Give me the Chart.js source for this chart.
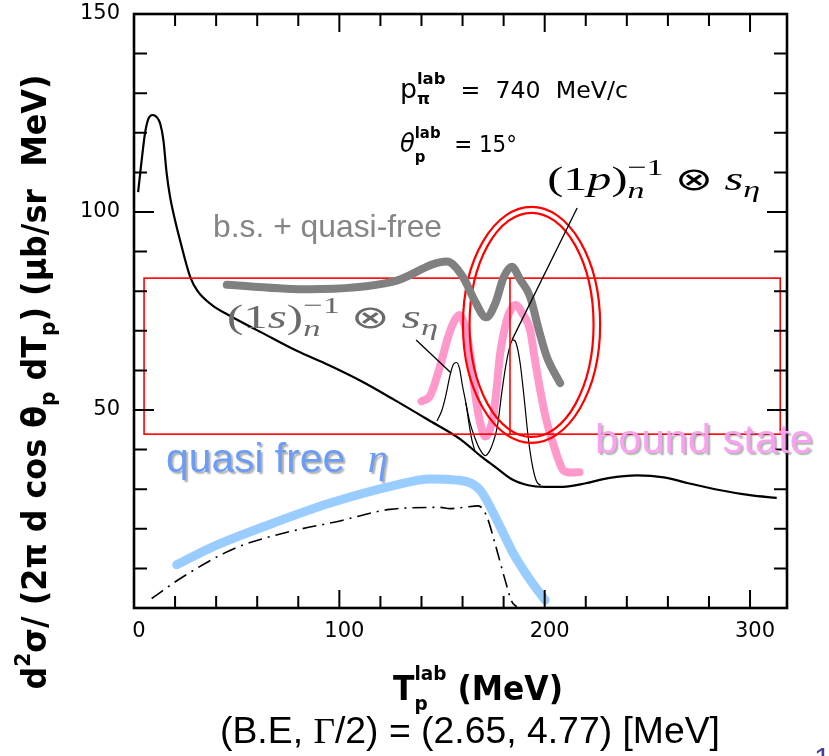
<!DOCTYPE html>
<html><head><meta charset="utf-8">
<script src="https://cdn.jsdelivr.net/npm/chart.js@4.4.1/dist/chart.umd.min.js"></script>
<style>html,body{margin:0;padding:0;background:#fff;}canvas{display:block;}</style>
</head><body>
<canvas id="c" width="829" height="756"></canvas>
<script>
// ---------- data ----------
const xTickLabels = [0, 100, 200, 300];
const yTickLabels = [50, 100, 150];
const xMinorStep = 20, yMinorStep = 10;

// total calculated spectrum (thin black)
const bgX = [2, 3.5, 5.4, 7, 9, 11, 12.7, 14.3, 15.9, 17.5, 19.2, 22.4, 27.3, 31, 38, 46, 62, 79, 95, 111, 127, 143, 159, 169, 176, 184, 192, 200, 209, 220, 231, 245, 258, 270, 285, 300, 313];
const bgY = [105, 112, 120, 123.5, 124.5, 124, 122.4, 118.2, 109.8, 104, 99.7, 92.9, 83.7, 80, 76.5, 74, 69.6, 65, 61.3, 57.2, 52.5, 47.6, 42.6, 38.3, 35.6, 32.5, 31, 30.6, 30.6, 31.5, 32.8, 33.5, 33, 31.5, 29.8, 28.5, 27.8];
// (1s) bound-state peak on background
const s1X = [147.5, 150, 152, 154, 155.5, 157, 158.5, 160, 161.6, 163, 164.5, 166];
const s1Y = [47.2, 50, 54, 59, 61.5, 62, 60.5, 56, 51.8, 47, 42.5, 39.7];
// (1s)+(1p) peaks on background
const s2X = [161.6, 163.5, 166, 168.5, 171, 173, 175, 177, 179, 181, 183, 184.5, 186, 188, 190, 192, 194, 196, 198];
const s2Y = [51.8, 47, 43, 40, 38.5, 39.5, 42, 46, 54, 61, 66, 67.7, 67, 62, 53, 43, 36, 32, 31];
// quasi-free (dash-dot)
const qfX = [8.6, 23.9, 49.2, 76, 98.7, 124.7, 149, 153.9, 160.4, 167.7, 171.8, 175.8, 180.7, 184, 186.4];
const qfY = [2.4, 7.9, 15.1, 19.3, 21.8, 24.9, 25.4, 25.1, 25.4, 25.8, 23.1, 16.3, 7.1, 1.6, 0.3];
// overlays
const blueX = [20.8, 38.6, 63, 95.5, 128, 144.2, 157.2, 168.5, 176.7, 184.6, 192.9, 200.2];
const blueY = [10.9, 15.5, 20.5, 26.5, 31.1, 32.6, 32.3, 29.8, 22.2, 13.9, 7.1, 2];
const pinkX = [140, 144.2, 149, 153, 156, 158.5, 161, 163.7, 165.5, 167.6, 169.5, 171, 173, 174.9, 176.5, 178.3, 181.5, 184, 186, 189, 192.9, 195, 197.8, 201, 204, 207, 209, 213, 217];
const pinkY = [52.2, 53.6, 61, 68.5, 72.5, 74, 71.5, 64.3, 56.5, 49.2, 45, 43.3, 44.5, 48.3, 55, 64.3, 72.7, 75.8, 76.5, 74.5, 70.2, 63.5, 55, 47, 41.7, 37, 34.8, 34.2, 34.3];
const grayX = [45.2, 85.3, 126.2, 152.3, 160.2, 166, 171.5, 176, 180, 184, 188, 192.9, 197, 201, 207.5];
const grayY = [81.6, 80.5, 82.4, 87.5, 83.6, 77.5, 73.4, 77, 83.5, 86.2, 83, 78.6, 70.5, 63.5, 56.8];

// annotation geometry in data units
const boxX = [4.9, 314.7], boxY = [43.9, 83.3], boxSplitX = 183.1;
const ellC = [193.6, 71.5], ellOuter = [33.4, 29.8], ellInner = [30.2, 28.3];
const ptr1s = [[137.4, 67.7], [154.3, 59.4]];
const ptr1p = [[215.8, 101], [184.1, 67.7]];

const pts = (xs, ys) => xs.map((x, i) => ({x, y: ys[i]}));

// ---------- rich text helper ----------
function layoutRich(ctx, parts) {
  let x = 0, items = [], prevStart = 0, prevEnd = 0;
  for (const p of parts) {
    ctx.font = p.f;
    const w = ctx.measureText(p.t).width;
    const sx = p.stack ? prevStart : x;
    items.push({p, x: sx});
    if (p.stack) { x = Math.max(prevEnd, sx + w); prevEnd = x; }
    else { prevStart = sx; prevEnd = sx + w; x = prevEnd; }
  }
  return {items, width: x};
}
function drawRich(ctx, parts, x, y, o) {
  const L = layoutRich(ctx, parts);
  const k = o.width ? o.width / L.width : 1;
  ctx.save();
  ctx.translate(x, y);
  if (o.rot) ctx.rotate(o.rot);
  ctx.scale(k, 1);
  if (o.shadow) { ctx.shadowColor = o.shadow; ctx.shadowOffsetX = 2; ctx.shadowOffsetY = 2; ctx.shadowBlur = 1.5; }
  if (o.blur) { ctx.filter = 'blur(' + o.blur + 'px)'; }
  ctx.textBaseline = 'alphabetic'; ctx.textAlign = 'left';
  const ox = o.center ? -L.width / 2 : 0;
  for (const it of L.items) {
    ctx.font = it.p.f; ctx.fillStyle = it.p.c || o.color;
    ctx.fillText(it.p.t, ox + it.x, it.p.dy || 0);
  }
  ctx.restore();
}

const SANS = "'DejaVu Sans'";
const ARIAL = "'Liberation Sans', Arial";
const SERIF = "'Liberation Serif', 'Times New Roman'";

const annot = {
  id: 'annot',
  beforeDatasetDraw(chart, args) {
    if (args.index !== 0) return;
    const {ctx, chartArea: a, scales: {x, y}} = chart;
    ctx.save();
    ctx.beginPath(); ctx.rect(a.left, a.top, a.right - a.left, a.bottom - a.top); ctx.clip();
    ctx.strokeStyle = '#ff0000';
    ctx.lineWidth = 1.6;
    const x0 = x.getPixelForValue(boxX[0]), x1 = x.getPixelForValue(boxX[1]);
    const y0 = y.getPixelForValue(boxY[1]), y1 = y.getPixelForValue(boxY[0]);
    ctx.strokeRect(x0, y0, x1 - x0, y1 - y0);
    const xs = x.getPixelForValue(boxSplitX);
    ctx.beginPath(); ctx.moveTo(xs, y0); ctx.lineTo(xs, y1); ctx.stroke();
    const cx = x.getPixelForValue(ellC[0]), cy = y.getPixelForValue(ellC[1]);
    ctx.lineWidth = 2.2;
    for (const r of [ellOuter, ellInner]) {
      const rx = x.getPixelForValue(ellC[0] + r[0]) - cx;
      const ry = cy - y.getPixelForValue(ellC[1] + r[1]);
      ctx.beginPath(); ctx.ellipse(cx, cy, rx, ry, 0, 0, Math.PI * 2); ctx.stroke();
    }
    ctx.restore();
  },
  afterDatasetsDraw(chart) {
    const {ctx, chartArea: a, scales: {x, y}} = chart;
    const X = v => x.getPixelForValue(v), Y = v => y.getPixelForValue(v);
    ctx.save();
    // frame
    ctx.strokeStyle = '#000'; ctx.lineWidth = 2.6;
    ctx.strokeRect(a.left, a.top, a.right - a.left, a.bottom - a.top);
    // inward ticks
    ctx.lineWidth = 2;
    for (let v = xMinorStep; v < x.max; v += xMinorStep) {
      const px = X(v), L = v % 100 === 0 ? 18 : 12;
      ctx.beginPath(); ctx.moveTo(px, a.bottom); ctx.lineTo(px, a.bottom - L);
      ctx.moveTo(px, a.top); ctx.lineTo(px, a.top + L); ctx.stroke();
    }
    for (let v = yMinorStep; v < y.max; v += yMinorStep) {
      const py = Y(v), L = v % 50 === 0 ? 20 : 13;
      ctx.beginPath(); ctx.moveTo(a.left, py); ctx.lineTo(a.left + L, py);
      ctx.moveTo(a.right, py); ctx.lineTo(a.right - L, py); ctx.stroke();
    }
    // pointer lines
    ctx.lineWidth = 1.3;
    for (const p of [ptr1s, ptr1p]) {
      ctx.beginPath(); ctx.moveTo(X(p[0][0]), Y(p[0][1])); ctx.lineTo(X(p[1][0]), Y(p[1][1])); ctx.stroke();
    }
    ctx.restore();

    // in-plot texts
    drawRich(ctx, [
      {t: 'p', f: '26px ' + SANS},
      {t: 'lab', f: 'bold 16px ' + SANS, dy: -14},
      {t: 'π', f: 'bold 16px ' + SANS, dy: 6, stack: true},
      {t: '  =  740  MeV/c', f: '23px ' + SANS}
    ], X(129.5), Y(128.8), {color: '#000', width: 228});
    drawRich(ctx, [
      {t: 'θ', f: 'italic 26px ' + SANS},
      {t: 'lab', f: 'bold 16px ' + SANS, dy: -14},
      {t: 'p', f: 'bold 16px ' + SANS, dy: 10, stack: true},
      {t: '  = 15°', f: '23px ' + SANS}
    ], X(129.5), Y(115.2), {color: '#000', width: 117});
    const texParts = (l) => [
      {t: '(1', f: '34px ' + SERIF},
      {t: l, f: 'italic 34px ' + SERIF},
      {t: ')', f: '34px ' + SERIF},
      {t: '−1', f: '24px ' + SERIF, dy: -15},
      {t: 'n', f: 'italic 24px ' + SERIF, dy: 8, stack: true},
      {t: ' ⊗ ', f: '32px ' + SERIF},
      {t: 's', f: 'italic 34px ' + SERIF},
      {t: 'η', f: 'italic 24px ' + SERIF, dy: 7}
    ];
    drawRich(ctx, texParts('p'), X(201.2), Y(105.6), {color: '#000', width: 213});
    drawRich(ctx, texParts('s'), X(45.3), Y(70.7), {color: '#6a6a6a', width: 211, blur: 0.6});
    drawRich(ctx, [{t: 'b.s. + quasi-free', f: '32px ' + ARIAL}], X(38.5), Y(93.7), {color: '#858585', width: 229});
    drawRich(ctx, [
      {t: 'quasi free  ', f: '40px ' + ARIAL},
      {t: 'η', f: 'italic 40px ' + SERIF}
    ], X(15.6), Y(34.3), {color: '#6b9cf6', shadow: 'rgba(80,80,80,0.45)', width: 222});
    drawRich(ctx, [{t: 'bound state', f: '40px ' + ARIAL}], X(224.5), Y(39.1), {color: '#f8a2f0', shadow: 'rgba(80,80,80,0.45)', width: 218});

    // axis titles and caption
    drawRich(ctx, [
      {t: 'T', f: 'bold 34px ' + SANS},
      {t: 'lab', f: 'bold 20px ' + SANS, dy: -20},
      {t: 'p', f: 'bold 20px ' + SANS, dy: 10, stack: true},
      {t: ' (MeV)', f: 'bold 34px ' + SANS}
    ], 393, 700, {color: '#000', width: 170});
    drawRich(ctx, [
      {t: 'd', f: 'bold 33px ' + SANS},
      {t: '2', f: 'bold 21px ' + SANS, dy: -16},
      {t: 'σ/ (2', f: 'bold 33px ' + SANS},
      {t: 'π', f: 'bold 33px ' + SANS},
      {t: ' d cos ', f: 'bold 33px ' + SANS},
      {t: 'θ', f: 'bold 33px ' + SANS},
      {t: 'p', f: 'bold 21px ' + SANS, dy: 9},
      {t: ' dT', f: 'bold 33px ' + SANS},
      {t: 'p', f: 'bold 21px ' + SANS, dy: 9},
      {t: ') (', f: 'bold 33px ' + SANS},
      {t: 'μ', f: 'bold 33px ' + SANS},
      {t: 'b/sr  MeV)', f: 'bold 33px ' + SANS}
    ], 46, 382, {color: '#000', width: 615, rot: -Math.PI / 2, center: true});
    drawRich(ctx, [
      {t: '(B.E, ', f: '36px ' + ARIAL},
      {t: 'Γ', f: '36px ' + SERIF},
      {t: '/2) = (2.65, 4.77) [MeV]', f: '36px ' + ARIAL}
    ], 220, 743, {color: '#000', width: 500});
    drawRich(ctx, [{t: '1', f: '30px ' + ARIAL}], 814, 768, {color: '#4b3d8f'});
  }
};

const chart = new Chart(document.getElementById('c'), {
  type: 'line',
  data: {
    datasets: [
      {data: pts(grayX, grayY), borderColor: '#808080', borderWidth: 8, borderCapStyle: 'round', borderJoinStyle: 'round', cubicInterpolationMode: 'monotone'},
      {data: pts(pinkX, pinkY), borderColor: '#ff99cc', borderWidth: 8, borderCapStyle: 'round', cubicInterpolationMode: 'monotone'},
      {data: pts(blueX, blueY), borderColor: '#99ccff', borderWidth: 9, borderCapStyle: 'round', cubicInterpolationMode: 'monotone'},
      {data: pts(qfX, qfY), borderColor: '#000', borderWidth: 1.6, borderDash: [14, 6, 2, 6], cubicInterpolationMode: 'monotone'},
      {data: pts(s1X, s1Y), borderColor: '#000', borderWidth: 1.2, cubicInterpolationMode: 'monotone'},
      {data: pts(s2X, s2Y), borderColor: '#000', borderWidth: 1.2, cubicInterpolationMode: 'monotone'},
      {data: pts(bgX, bgY), borderColor: '#000', borderWidth: 2.2, cubicInterpolationMode: 'monotone'}
    ]
  },
  options: {
    responsive: false, animation: false, devicePixelRatio: 1,
    layout: {padding: {top: 14, right: 42, left: 0, bottom: 0}},
    elements: {point: {radius: 0}, line: {fill: false}},
    plugins: {legend: {display: false}, tooltip: {enabled: false}},
    scales: {
      x: {
        type: 'linear', min: 0, max: 318,
        grid: {display: false, drawTicks: false}, border: {display: false},
        ticks: {stepSize: 100, includeBounds: false, autoSkip: false, maxRotation: 0, padding: 11, labelOffset: 5,
          color: '#000', font: {family: 'DejaVu Sans', size: 21},
          callback: v => xTickLabels.includes(v) ? String(v) : ''},
        afterFit: s => { s.height = 148; s.paddingLeft = 0; s.paddingRight = 0; }
      },
      y: {
        min: 0, max: 150,
        grid: {display: false, drawTicks: false}, border: {display: false},
        ticks: {stepSize: 50, includeBounds: false, autoSkip: false, padding: 14,
          color: '#000', font: {family: 'DejaVu Sans', size: 21},
          callback: v => yTickLabels.includes(v) ? String(v) : ''},
        afterFit: s => { s.width = 134; s.paddingTop = 0; s.paddingBottom = 0; }
      }
    }
  },
  plugins: [annot]
});
</script>
</body></html>
